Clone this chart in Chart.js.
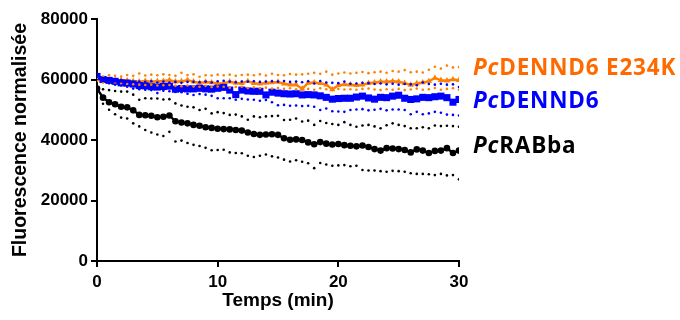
<!DOCTYPE html>
<html>
<head>
<meta charset="utf-8">
<script src="https://cdn.jsdelivr.net/npm/chart.js@4/dist/chart.umd.min.js"></script>
<style>
html,body{margin:0;padding:0;background:#fff;}
#wrap{position:relative;width:680px;height:320px;}
</style>
</head>
<body>
<div id="wrap"><canvas id="c" width="680" height="320"></canvas></div>
<script>
const times = [0,0.5,1,1.5,2,2.5,3,3.5,4,4.5,5,5.5,6,6.5,7,7.5,8,8.5,9,9.5,10,10.5,11,11.5,12,12.5,13,13.5,14,14.5,15,15.5,16,16.5,17,17.5,18,18.5,19,19.5,20,20.5,21,21.5,22,22.5,23,23.5,24,24.5,25,25.5,26,26.5,27,27.5,28,28.5,29,29.5,30];

const rabbaMean = [57000,54000,52500,51800,51000,50800,49800,48300,48200,48000,47500,47700,48100,46200,45800,45500,45000,44700,44200,44000,43700,43600,43500,43300,43100,42500,42000,41700,41800,41900,41700,40600,40100,40200,40000,39200,38600,39300,38800,38500,38700,38300,38100,37900,38200,37700,37000,36500,37300,37200,37000,36700,35900,36900,36500,35700,36400,36500,37300,35700,36500];
const rabbaUpper = [57000,56800,56500,56200,56000,56000,55000,53300,53800,53700,53700,53400,53500,52100,51400,51000,50800,49900,50300,48800,49200,48900,48300,48400,47800,46700,47800,47500,47800,47900,48000,46600,46700,47100,46100,46400,45000,46300,45600,45300,45000,45900,45000,44400,44800,45000,44500,43900,44900,45500,45000,44600,43900,43900,44200,43900,44800,44600,44700,44600,44400];
const rabbaLower = [56500,52000,50000,48500,47400,47100,45500,44500,43300,42500,41800,41300,42700,39500,39800,39000,38400,38000,37400,36600,36700,36800,35900,35700,35600,34800,34400,34800,35200,34600,34200,33500,32900,33300,32800,32300,30700,32400,31900,31500,31600,31700,31300,31500,30100,29900,29900,29700,29500,29800,29700,29500,29000,28800,28800,28700,28400,28800,28300,28400,27000];

const dennMean = [61000,60000,59700,59400,58900,58800,58500,58000,57900,57600,57500,57700,57800,56800,57000,56900,56900,57100,56900,56800,57100,57400,56500,55000,56500,56200,56100,56100,54900,55800,55500,55300,55200,55300,54900,55000,54900,54600,54100,53500,53700,53800,53800,54200,54500,53900,53500,54100,54000,54500,54800,53800,53400,53600,54100,54000,54300,54500,54000,52500,53400];
const dennUpper = [61000,60500,60300,60000,59800,59500,59300,59300,59200,59400,59000,59300,59000,59200,58900,59200,59200,59100,59300,59000,59400,59600,59300,59100,59300,59300,59400,59200,59300,59400,59300,59500,59200,59300,59100,59400,58700,59500,59000,58900,58800,59300,58600,58700,58900,58800,58500,58700,58400,58600,58300,58500,58400,58100,59000,58500,58300,58600,58300,58400,57500];
const dennLower = [61000,59500,58800,58300,58000,57600,57000,56800,56600,56500,55500,56300,56100,55900,55800,55300,54900,55200,55000,54600,53800,53800,53800,53300,53600,53400,53300,53000,53200,52500,51500,51600,51300,51400,51200,51300,51000,49900,50400,49500,49400,49300,49900,50100,50200,49800,50000,50300,49800,50100,50100,49900,48500,49300,48500,48800,49300,49000,48400,48300,48100];

const mutMean = [60000,59800,59600,59700,59800,59600,59400,59300,59500,59300,59400,59500,59800,59300,59400,59800,59300,58900,59200,59000,58700,58800,59300,58900,58800,59400,58800,58600,58900,59000,59200,58600,58300,58300,56900,58900,59000,58800,58300,56700,58100,58400,58300,58100,58300,58800,59000,59300,59300,59400,59300,58800,58200,58700,59000,59400,60500,59800,59600,60000,59800];
const mutUpper = [60500,61000,61400,61200,61000,61500,61200,62000,61300,61600,61400,61700,61500,61200,62200,61500,61700,60900,61400,61300,61600,61400,61600,61200,61500,61600,61400,61700,61300,61900,61500,61400,61800,61600,61700,61900,62200,61900,62600,61600,62000,62300,62000,62200,62500,62100,62400,62600,62200,62800,62600,63100,62400,62600,62300,63200,64200,63600,64600,64000,64100];
const mutLower = [59500,59000,58800,58700,58600,58500,58400,58300,58200,58300,58000,58100,58200,57900,57800,58000,57700,57600,57900,57500,57700,57600,57300,57500,57600,57200,57400,57100,57300,57000,57200,56900,57100,56800,56700,56900,56600,57100,56800,56500,56900,56700,56800,56600,56900,57000,56700,56500,56800,56600,56900,56500,56700,57000,56600,56800,57200,56600,56900,57100,56600];

const yTicks = [0,20000,40000,60000,80000];
const xTicks = [0,10,20,30];
const seriesLabels = ['PcRABba','PcDENND6','PcDENND6 E234K'];

const BLACK = '#000000', BLUE = '#0000ff', ORANGE = '#ff8000';

function pts(vals){ return vals.map((v,i)=>({x:times[i], y:v})); }
function dotted(vals,color){
  return {data:pts(vals), showLine:false, pointRadius:1.3, pointHoverRadius:1.3,
    pointBackgroundColor:color, pointBorderWidth:0, borderColor:color, backgroundColor:color};
}
function mean(vals,color,style,r){
  return {data:pts(vals), showLine:true, borderColor:color, borderWidth:2.4, tension:0,
    pointStyle:style, pointRadius:r, pointBackgroundColor:color, pointBorderColor:color,
    pointBorderWidth:0, backgroundColor:color};
}

const labelPlugin = {
  id:'endLabels',
  afterDraw(chart){
    const ctx = chart.ctx;
    const items = [
      {pre:'Pc', rest:'DENND6 E234K', color:'#ff6a00', y:69},
      {pre:'Pc', rest:'DENND6', color:'#0000ff', y:101.5},
      {pre:'Pc', rest:'RABba', color:'#000000', y:147}
    ];
    ctx.save();
    ctx.textBaseline='middle';
    try { ctx.letterSpacing = '0.8px'; } catch(e) {}
    items.forEach(it=>{
      let x = 473;
      ctx.fillStyle = it.color;
      ctx.font = 'italic bold 22.5px "Open Sans"';
      ctx.fillText(it.pre, x, it.y);
      x += ctx.measureText(it.pre).width;
      ctx.font = 'bold 22.5px "Open Sans"';
      ctx.fillText(it.rest, x, it.y);
    });
    ctx.restore();
  }
};

new Chart(document.getElementById('c'), {
  type:'scatter',
  data:{datasets:[
    dotted(rabbaUpper,BLACK), dotted(rabbaLower,BLACK),
    dotted(dennUpper,BLUE), dotted(dennLower,BLUE),
    dotted(mutUpper,ORANGE), dotted(mutLower,ORANGE),
    mean(rabbaMean,BLACK,'circle',3.3),
    mean(dennMean,BLUE,'rect',5),
    mean(mutMean,ORANGE,'triangle',3.6)
  ]},
  options:{
    responsive:false, animation:false, devicePixelRatio:1,
    layout:{padding:{left:0,right:221,top:19,bottom:0}},
    plugins:{legend:{display:false}, tooltip:{enabled:false}},
    scales:{
      x:{type:'linear', min:0, max:30,
        afterBuildTicks(s){ s.ticks = xTicks.map(v=>({value:v})); },
        afterFit(s){ s.height = 59; },
        grid:{display:true, drawOnChartArea:false, drawTicks:true, tickLength:6, color:'#000', lineWidth:2},
        border:{display:true, color:'#000', width:2},
        ticks:{color:'#000', font:{family:'Liberation Sans', weight:'bold', size:17}, padding:5, maxRotation:0,
          callback:v=>String(v)},
        title:{display:true, text:'Temps (min)', color:'#000', font:{family:'Liberation Sans', weight:'bold', size:19}, padding:{top:2,bottom:8}}
      },
      y:{type:'linear', min:0, max:80000,
        afterBuildTicks(s){ s.ticks = yTicks.map(v=>({value:v})); },
        afterFit(s){ s.width = 97; },
        grid:{display:true, drawOnChartArea:false, drawTicks:true, tickLength:6, color:'#000', lineWidth:2},
        border:{display:true, color:'#000', width:2},
        ticks:{color:'#000', font:{family:'Liberation Sans', weight:'bold', size:17}, padding:3,
          callback:v=>String(v)},
        title:{display:true, text:'Fluorescence normalisée', color:'#000', font:{family:'Liberation Sans', weight:'bold', size:19.5}, padding:{top:9,bottom:2}}
      }
    }
  },
  plugins:[labelPlugin]
});
</script>
</body>
</html>
